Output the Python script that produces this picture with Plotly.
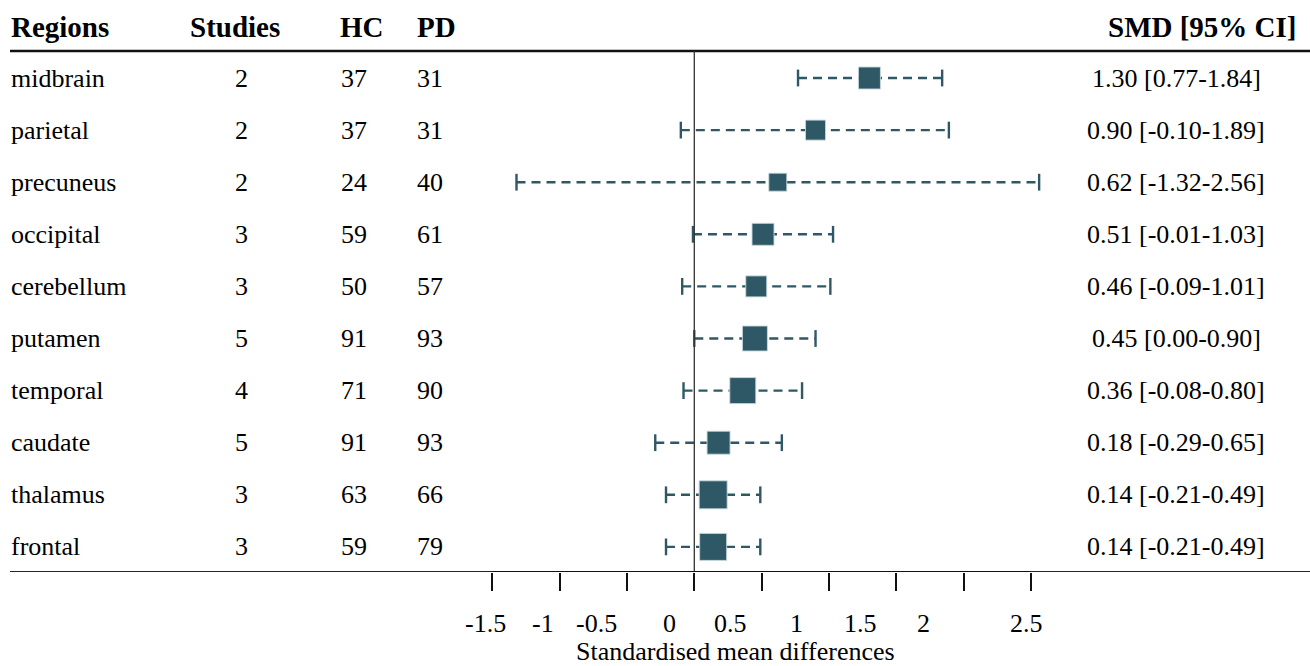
import plotly.graph_objects as go

# ---------------- data ----------------
regions = ["midbrain", "parietal", "precuneus", "occipital", "cerebellum",
           "putamen", "temporal", "caudate", "thalamus", "frontal"]
studies = [2, 2, 2, 3, 3, 5, 4, 5, 3, 3]
hc_n = [37, 37, 24, 59, 50, 91, 71, 91, 63, 59]
pd_n = [31, 31, 40, 61, 57, 93, 90, 93, 66, 79]
smd = [1.30, 0.90, 0.62, 0.51, 0.46, 0.45, 0.36, 0.18, 0.14, 0.14]
ci_lo = [0.77, -0.10, -1.32, -0.01, -0.09, 0.00, -0.08, -0.29, -0.21, -0.21]
ci_hi = [1.84, 1.89, 2.56, 1.03, 1.01, 0.90, 0.80, 0.65, 0.49, 0.49]
box_size = [22, 20, 18, 22, 21, 25, 26, 23, 28, 27]  # study weight -> box size (px)

tick_vals = [-1.5, -1, -0.5, 0, 0.5, 1, 1.5, 2, 2.5]
tick_text = ["-1.5", "-1", "-0.5", "0", "0.5", "1", "1.5", "2", "2.5"]
tick_label_x = [-1.55, -1.123, -0.723, -0.184, 0.272, 0.755, 1.234, 1.701, 2.466]

headers = ["Regions", "Studies", "HC", "PD", "SMD [95% CI]"]
x_title = "Standardised mean differences"

# ---------------- style ----------------
W, H = 1310, 666
FONT = "Liberation Serif, Times New Roman, serif"
TEAL = "rgb(46,88,102)"
BODY = 26
HEAD = 29
ROWS = list(range(len(regions)))

fig = go.Figure()

# CI dashed lines
for i in ROWS:
    fig.add_trace(go.Scatter(
        x=[ci_lo[i], ci_hi[i]], y=[i, i], mode="lines",
        line=dict(color=TEAL, width=2.4, dash="9px,6px"),
        hoverinfo="skip", showlegend=False))
# caps
fig.add_trace(go.Scatter(
    x=ci_lo + ci_hi, y=ROWS + ROWS, mode="markers",
    marker=dict(symbol="line-ns", size=12, opacity=1,
                line=dict(color=TEAL, width=2.4)),
    hoverinfo="skip", showlegend=False))
# boxes
fig.add_trace(go.Scatter(
    x=smd, y=ROWS, mode="markers",
    marker=dict(symbol="square", size=box_size, color=TEAL, opacity=1,
                line=dict(color="rgba(200,215,220,0.9)", width=1)),
    showlegend=False))

# ---------------- geometry ----------------
px0 = 694.3      # pixel of x=0
ppu = 134.7      # pixels per unit
x_range = [-px0 / ppu, (W - px0) / ppu]
plot_h = 572
row0, row_step = 78, 52.1
y_range = [(plot_h - row0) / row_step, -row0 / row_step]


def ydat(py):
    return (py - row0) / row_step


def xpap(px):
    return px / W


# shapes: header rule, zero line, bottom rule
shapes = [
    dict(type="line", xref="paper", yref="y", x0=xpap(10), x1=1, y0=ydat(51), y1=ydat(51),
         line=dict(color="#111", width=2.3)),
    dict(type="line", xref="x", yref="y", x0=0, x1=0, y0=ydat(51), y1=ydat(572),
         line=dict(color="#333", width=1.3)),
    dict(type="line", xref="paper", yref="y", x0=xpap(10), x1=1, y0=ydat(572), y1=ydat(572),
         line=dict(color="#1c1c66", width=2)),
    dict(type="line", xref="x", yref="y", x0=tick_vals[0], x1=tick_vals[-1],
         y0=ydat(572), y1=ydat(572), line=dict(color="#111", width=2.2)),
]

ann = []
# headers
hy = ydat(27)
ann.append(dict(x=xpap(9), y=hy, text=headers[0], xanchor="left"))
ann.append(dict(x=xpap(235), y=hy, text=headers[1], xanchor="center"))
ann.append(dict(x=xpap(337.5), y=hy, text=headers[2], xanchor="left"))
ann.append(dict(x=xpap(415), y=hy, text=headers[3], xanchor="left"))
ann.append(dict(x=xpap(1299), y=hy, text=headers[4], xanchor="right"))
for a in ann:
    a.update(xref="paper", yref="y", yanchor="middle", showarrow=False,
             font=dict(family=FONT, size=HEAD, color="#000"))
    a["text"] = "<b>" + a["text"] + "</b>"

body = []
for i in ROWS:
    body.append(dict(x=xpap(9), y=i, text=regions[i], xanchor="left"))
    body.append(dict(x=xpap(241), y=i, text=str(studies[i]), xanchor="center"))
    body.append(dict(x=xpap(338.5), y=i, text=str(hc_n[i]), xanchor="left"))
    body.append(dict(x=xpap(415), y=i, text=str(pd_n[i]), xanchor="left"))
    body.append(dict(x=xpap(1176), y=i,
                     text=f"{smd[i]:.2f} [{ci_lo[i]:.2f}-{ci_hi[i]:.2f}]",
                     xanchor="center"))
for a in body:
    a.update(xref="paper", yref="y", yanchor="middle", showarrow=False,
             font=dict(family=FONT, size=BODY, color="#000"))
ann += body

# tick labels and axis title
for lx, lt in zip(tick_label_x, tick_text):
    ann.append(dict(x=lx, y=(plot_h - 623) / plot_h, xref="x", yref="paper",
                    text=lt, xanchor="center", yanchor="middle", showarrow=False,
                    font=dict(family=FONT, size=BODY, color="#000")))
ann.append(dict(x=xpap(735.5), y=(plot_h - 651) / plot_h, xref="paper", yref="paper",
                text=x_title, xanchor="center", yanchor="middle", showarrow=False,
                font=dict(family=FONT, size=BODY, color="#000")))

fig.update_layout(
    width=W, height=H,
    margin=dict(l=0, r=0, t=0, b=H - plot_h, pad=0),
    paper_bgcolor="white", plot_bgcolor="white",
    xaxis=dict(range=x_range, showgrid=False, zeroline=False, showline=False,
               tickmode="array", tickvals=tick_vals, ticktext=[""] * len(tick_vals),
               ticks="outside", ticklen=18, tickwidth=2.2, tickcolor="#111",
               showticklabels=False, fixedrange=True),
    yaxis=dict(range=y_range, showgrid=False, zeroline=False, showline=False,
               showticklabels=False, fixedrange=True),
    shapes=shapes, annotations=ann,
)

fig.write_html("out.html", config={"displayModeBar": False},
               post_script="document.body.style.margin='0px';document.body.style.overflow='hidden';")
